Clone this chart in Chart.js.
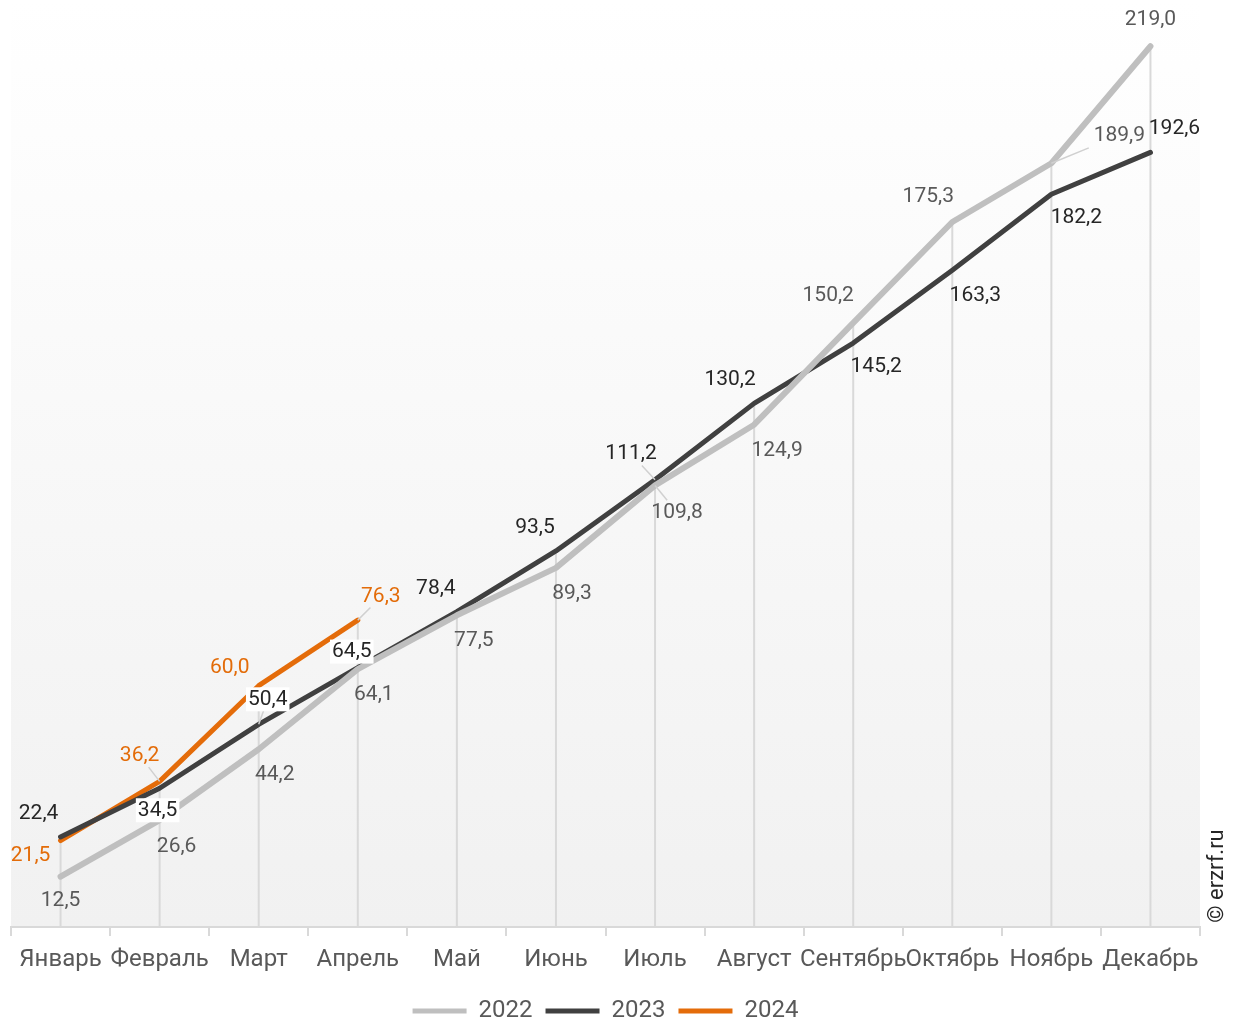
<!DOCTYPE html>
<html lang="ru">
<head>
<meta charset="utf-8">
<script src="https://cdn.jsdelivr.net/npm/chart.js@4.4.1/dist/chart.umd.min.js"></script>
<style>
  html, body { margin: 0; padding: 0; background: #ffffff; }
  #wrap { width: 1237px; height: 1021px; position: relative; }
</style>
</head>
<body>
<div id="wrap"><canvas id="grafico"></canvas></div>
<script>
const meses = ['Январь', 'Февраль', 'Март', 'Апрель', 'Май', 'Июнь',
  'Июль', 'Август', 'Сентябрь', 'Октябрь', 'Ноябрь', 'Декабрь'];
const valores2022 = [12.5, 26.6, 44.2, 64.1, 77.5, 89.3, 109.8, 124.9, 150.2, 175.3, 189.9, 219.0];
const valores2023 = [22.4, 34.5, 50.4, 64.5, 78.4, 93.5, 111.2, 130.2, 145.2, 163.3, 182.2, 192.6];
const valores2024 = [21.5, 36.2, 60.0, 76.3];

// deslocamento dos rótulos em relação ao ponto [dx, dy, fundo branco, linha guia]
const posRotulos = {
  0: [[0, 24], [17, 27], [16, 26], [16, 26], [17, 25], [16, 26], [22, 27, 0, 1], [23, 26],
      [-25, -27], [-24, -25], [68, -28, 0, 1], [0, -26]],
  1: [[-22, -23], [-2, 22, 1], [9, -25, 1, 1], [-6, -16, 1], [-21, -23], [-21, -23], [-24, -26, 0, 1],
      [-24, -24], [23, 24], [23, 25], [25, 24], [24, -24]],
  2: [[-30, 15], [-20, -26, 0, 1], [-29, -18], [23, -23, 0, 1]]
};
const coresRotulos = ['#595959', '#262626', '#e36c09'];

const fmt = v => v.toFixed(1).replace('.', ',');

// fundo em degradê da área do gráfico
const fundo = {
  id: 'fundo',
  beforeDraw(chart) {
    const { ctx, chartArea: a } = chart;
    const g = ctx.createLinearGradient(0, 0, 0, a.bottom);
    g.addColorStop(0, '#ffffff');
    g.addColorStop(1, '#f1f1f1');
    ctx.save();
    ctx.fillStyle = g;
    ctx.fillRect(a.left, 0, a.right - a.left, a.bottom);
    ctx.restore();
  }
};

// linhas verticais do ponto mais alto até o eixo
const linhasQueda = {
  id: 'linhasQueda',
  beforeDatasetsDraw(chart) {
    const { ctx, scales: { x, y } } = chart;
    ctx.save();
    ctx.strokeStyle = '#d9d9d9';
    ctx.lineWidth = 2;
    meses.forEach((m, i) => {
      const vals = [valores2022[i], valores2023[i], valores2024[i]].filter(v => v !== undefined);
      const topo = Math.max(...vals);
      const px = x.getPixelForValue(i);
      ctx.beginPath();
      ctx.moveTo(px, y.getPixelForValue(topo));
      ctx.lineTo(px, y.getPixelForValue(0));
      ctx.stroke();
    });
    ctx.restore();
  }
};

// rótulos de dados
const rotulos = {
  id: 'rotulos',
  afterDatasetsDraw(chart) {
    const { ctx } = chart;
    ctx.save();
    ctx.font = '21px Roboto';
    ctx.textAlign = 'center';
    ctx.textBaseline = 'middle';
    chart.data.datasets.forEach((ds, d) => {
      const meta = chart.getDatasetMeta(d);
      meta.data.forEach((pt, i) => {
        const [dx, dy, bg, guia] = posRotulos[d][i];
        const tx = pt.x + dx, ty = pt.y + dy;
        const txt = fmt(ds.data[i]);
        if (guia) {
          ctx.strokeStyle = '#d0d0d0';
          ctx.lineWidth = 1.5;
          ctx.beginPath();
          ctx.moveTo(pt.x, pt.y);
          ctx.lineTo(pt.x + dx * 0.55, pt.y + dy * 0.55);
          ctx.stroke();
        }
        if (bg) {
          const w = ctx.measureText(txt).width;
          ctx.fillStyle = '#ffffff';
          ctx.fillRect(tx - w / 2 - 2, ty - 12, w + 4, 24);
        }
        ctx.fillStyle = coresRotulos[d];
        ctx.fillText(txt, tx, ty);
      });
    });
    // marca d'água
    ctx.translate(1217, 876);
    ctx.rotate(-Math.PI / 2);
    ctx.fillStyle = '#262626';
    ctx.font = '22px Roboto';
    ctx.fillText('© erzrf.ru', 0, 0);
    ctx.restore();
  }
};

const serie = (label, data, cor, largura) => ({
  label, data,
  borderColor: cor,
  backgroundColor: cor,
  borderWidth: largura,
  borderCapStyle: 'round',
  borderJoinStyle: 'round',
  pointRadius: 0,
  pointHoverRadius: 0,
  tension: 0
});

new Chart(document.getElementById('grafico'), {
  type: 'line',
  data: {
    labels: meses,
    datasets: [
      serie('2022', valores2022, '#bfbfbf', 6),
      serie('2023', valores2023, '#404040', 5),
      serie('2024', valores2024, '#e46c0a', 5)
    ]
  },
  options: {
    responsive: true,
    maintainAspectRatio: false,
    animation: false,
    layout: { padding: { left: 11, right: 37, top: 2, bottom: -12 } },
    plugins: {
      tooltip: { enabled: false },
      legend: {
        position: 'bottom',
        labels: {
          color: '#595959',
          font: { family: 'Roboto', size: 24 },
          boxWidth: 54,
          boxHeight: 5,
          padding: 13,
          generateLabels(chart) {
            return chart.data.datasets.map((ds, i) => ({
              text: ds.label,
              fillStyle: ds.borderColor,
              strokeStyle: ds.borderColor,
              lineWidth: 0,
              fontColor: '#595959',
              datasetIndex: i
            }));
          }
        }
      }
    },
    scales: {
      x: {
        offset: true,
        border: { color: '#d9d9d9', width: 2 },
        grid: { offset: true, drawOnChartArea: false, drawTicks: true, tickLength: 9, color: '#d9d9d9', lineWidth: 2 },
        ticks: {
          color: '#595959',
          font: { family: 'Roboto', size: 24 },
          autoSkip: false,
          maxRotation: 0,
          minRotation: 0,
          padding: 10
        },
        afterFit(scale) { scale.height = 59; }
      },
      y: {
        display: false,
        min: 0,
        max: 230
      }
    }
  },
  plugins: [fundo, linhasQueda, rotulos]
});
</script>
</body>
</html>
